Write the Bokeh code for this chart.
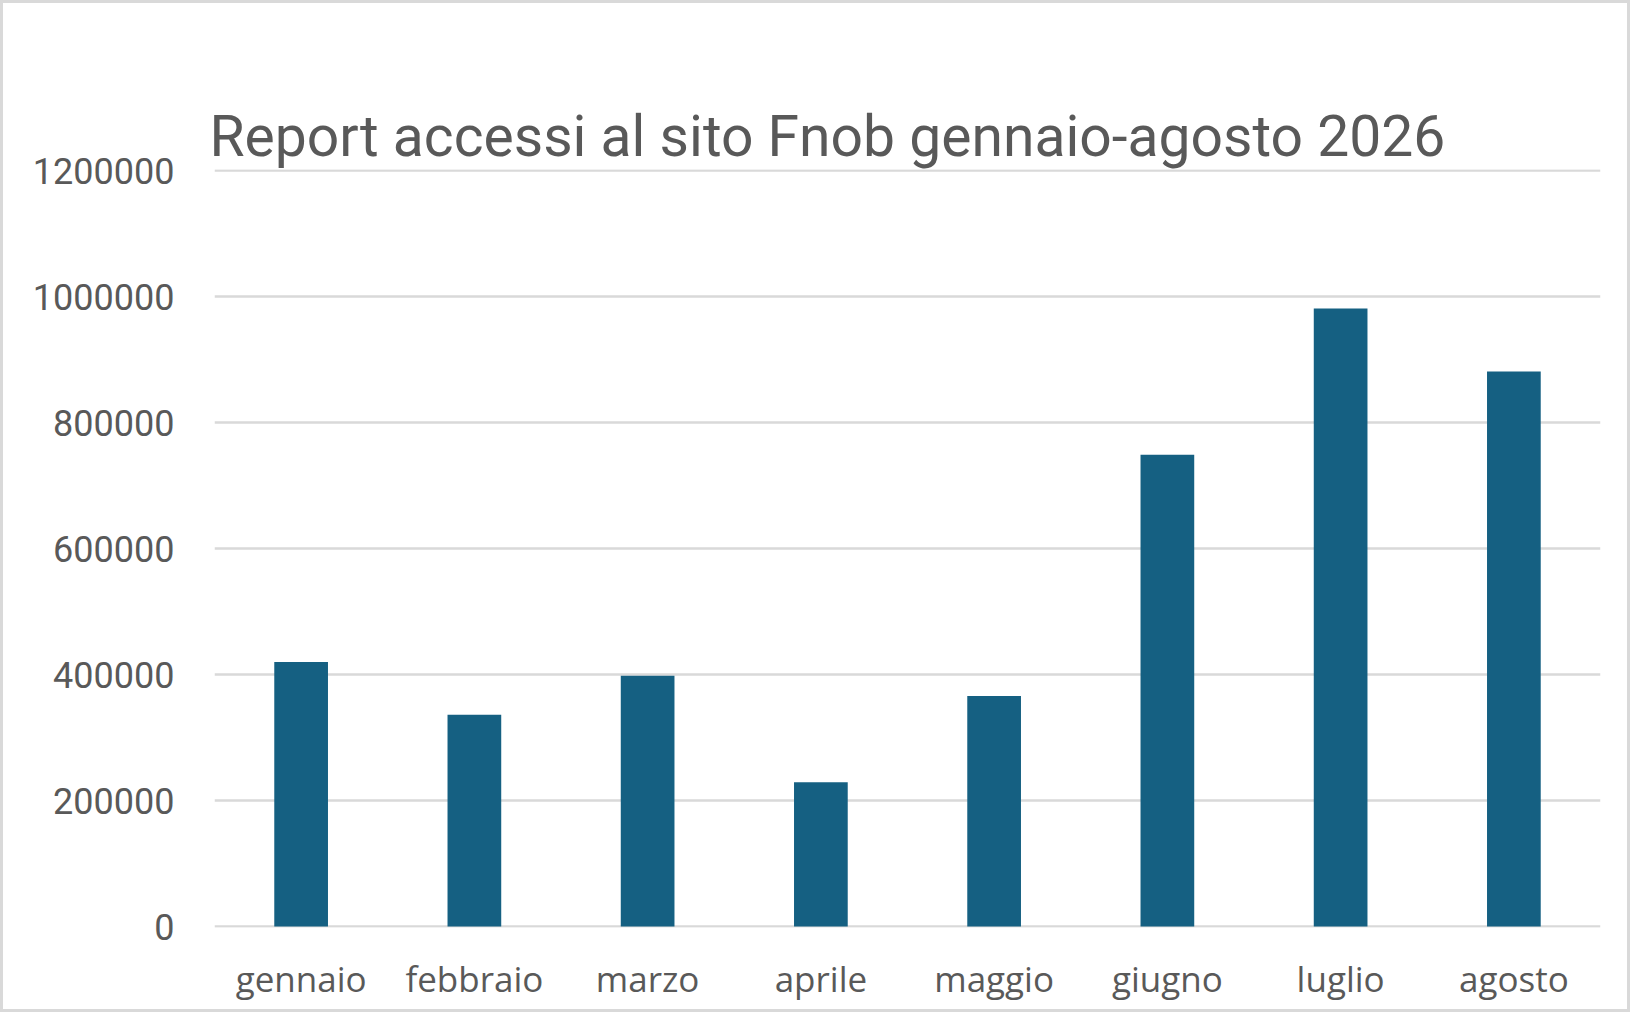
from bokeh.plotting import figure
from bokeh.models import ColumnDataSource, FactorRange, Range1d, FixedTicker, BasicTickFormatter, Title
from bokeh.embed import file_html
from bokeh.resources import INLINE

months = ["gennaio", "febbraio", "marzo", "aprile", "maggio", "giugno", "luglio", "agosto"]
accessi = [420000, 336000, 398000, 229000, 366000, 749000, 981000, 881000]
y_ticks = [0, 200000, 400000, 600000, 800000, 1000000, 1200000]
title_text = "Report accessi al sito Fnob gennaio-agosto 2026"

TEXT = "#595959"
GRID = "#d9d9d9"
BAR = "#156082"

source = ColumnDataSource(data=dict(m=months, v=accessi))

# one pixel of padding so the gridlines at 0 and at the top are drawn
pad = 1200000 / 756

p = figure(
    width=1630, height=1012,
    x_range=FactorRange(*months, range_padding=0),
    y_range=Range1d(-pad, 1200000 + pad),
    output_backend="svg", toolbar_location=None,
    min_border_left=211, min_border_right=33, min_border_top=166, min_border_bottom=88,
    background_fill_color="white", border_fill_color="white",
    outline_line_color=None,
)
p.styles = {"border": "3px solid #d9d9d9"}
p.title.text = ""

p.vbar(x="m", top="v", width=0.31, source=source, fill_color=BAR, line_color=None)

# invisible spacer next to the frame (added first -> innermost)
spacer = Title(text=".", text_font_size="1px", text_color="white", text_alpha=0, standoff=56)
p.add_layout(spacer, "above")

main_title = Title(
    text=title_text, text_font="Roboto", text_font_size="57px",
    text_font_style="normal", text_color=TEXT, align="left",
    offset=-5, standoff=0,
)
p.add_layout(main_title, "above")

p.xgrid.grid_line_color = None
p.ygrid.grid_line_color = GRID
p.ygrid.grid_line_width = 2.5

p.yaxis.ticker = FixedTicker(ticks=y_ticks)
p.yaxis.formatter = BasicTickFormatter(use_scientific=False)
p.yaxis.axis_line_color = None
p.yaxis.major_tick_line_color = None
p.yaxis.minor_tick_line_color = None
p.yaxis.major_tick_out = 0
p.yaxis.major_tick_in = 0
p.yaxis.major_label_standoff = 40
p.yaxis.major_label_text_font = "Roboto"
p.yaxis.major_label_text_font_size = "36px"
p.yaxis.major_label_text_color = TEXT

p.xaxis.axis_line_color = None
p.xaxis.major_tick_line_color = None
p.xaxis.minor_tick_line_color = None
p.xaxis.major_tick_out = 0
p.xaxis.major_tick_in = 0
p.xaxis.major_label_standoff = 27
p.xaxis.major_label_text_font = "Open Sans"
p.xaxis.major_label_text_font_size = "35px"
p.xaxis.major_label_text_color = TEXT

open("out.html", "w").write(file_html(p, INLINE))
